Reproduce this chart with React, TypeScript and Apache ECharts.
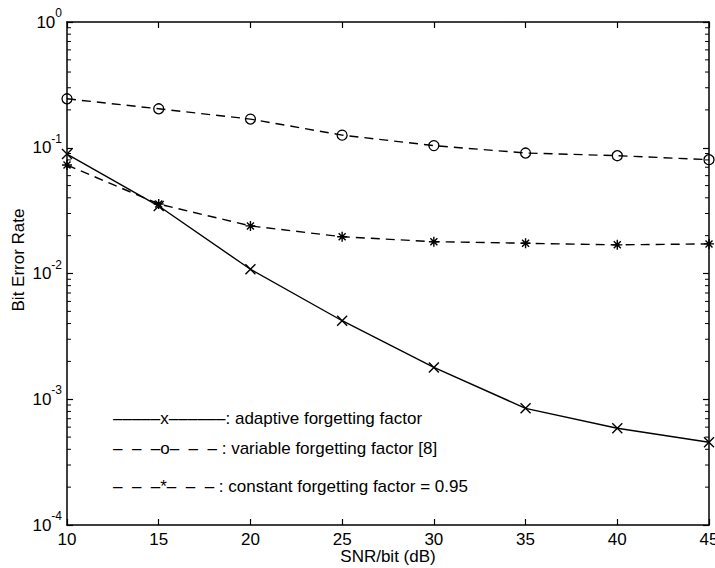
import React, { useEffect, useRef } from "react";
import * as echarts from "echarts";

const snr = [10, 15, 20, 25, 30, 35, 40, 45];
const adaptive = [0.089, 0.0344, 0.0108, 0.00421, 0.00179, 0.000847, 0.000588, 0.000455];
const variableFF = [0.245, 0.204, 0.169, 0.126, 0.104, 0.0908, 0.0865, 0.0804];
const constantFF = [0.0729, 0.0357, 0.0239, 0.0196, 0.0179, 0.0174, 0.0169, 0.0172];

const xMin = 10;
const xMax = 45;
const xStep = 5;
const yMin = 1e-4;
const yMax = 1;
const minorDecades = [-4, -3, -2, -1];
const minorMultipliers = [2, 3, 4, 5, 6, 7, 8, 9];

const legendLines = [
  "–––––x––––––: adaptive forgetting factor",
  "–\u00a0\u00a0–\u00a0\u00a0–o–\u00a0\u00a0–\u00a0\u00a0–\u00a0: variable forgetting factor [8]",
  "–\u00a0\u00a0–\u00a0\u00a0–*–\u00a0\u00a0–\u00a0\u00a0–\u00a0: constant forgetting factor = 0.95",
];

const FONT = '"Liberation Sans", Arial, Helvetica, sans-serif';

export default function App() {
  const ref = useRef<HTMLDivElement>(null);

  useEffect(() => {
    if (!ref.current) return;
    const chart = echarts.init(ref.current, undefined, { renderer: "svg" });

    const minorValues: number[][] = [];
    minorDecades.forEach((d) => {
      minorMultipliers.forEach((m) => {
        minorValues.push([xMin, m * Math.pow(10, d)]);
      });
    });

    const axisLine = { show: true, lineStyle: { color: "#000", width: 1.5 } };
    const tick = { show: true, inside: true, length: 6, lineStyle: { color: "#000", width: 1.2 } };

    const crossPath = "path://M0,0L10,10M10,0L0,10";
    const starPath = "path://M5,0L5,10M0,5L10,5M1.5,1.5L8.5,8.5M1.5,8.5L8.5,1.5";

    const option: any = {
      animation: false,
      backgroundColor: "#fff",
      textStyle: { fontFamily: FONT, color: "#000" },
      grid: { left: 67, right: 6, top: 22, bottom: 43, containLabel: false, outerBoundsMode: "none" },
      xAxis: [
        {
          type: "value",
          min: xMin,
          max: xMax,
          interval: xStep,
          position: "bottom",
          axisLine,
          axisTick: tick,
          splitLine: { show: false },
          axisLabel: { color: "#000", fontSize: 17, margin: 6, fontFamily: FONT, showMaxLabel: true, showMinLabel: true },
          name: "SNR/bit (dB)",
          nameLocation: "middle",
          nameGap: 23,
          nameMoveOverlap: false,
          nameTextStyle: { color: "#000", fontSize: 17, fontFamily: FONT },
        },
        {
          type: "value",
          min: xMin,
          max: xMax,
          interval: xStep,
          position: "top",
          axisLine,
          axisTick: tick,
          splitLine: { show: false },
          axisLabel: { show: false },
        },
      ],
      yAxis: [
        {
          type: "log",
          logBase: 10,
          min: yMin,
          max: yMax,
          splitNumber: 4,
          position: "left",
          axisLine,
          axisTick: tick,
          splitLine: { show: false },
          axisLabel: {
            margin: 5,
            formatter: (v: number) => {
              const e = Math.round(Math.log10(v));
              return "{b|10}{s|" + String(e) + "}";
            },
            rich: {
              b: { fontSize: 17, lineHeight: 30, verticalAlign: "middle", color: "#000", fontFamily: FONT },
              s: { fontSize: 12, lineHeight: 14, verticalAlign: "top", color: "#000", fontFamily: FONT },
            },
          },
          name: "Bit Error Rate",
          nameLocation: "middle",
          nameGap: 40,
          nameMoveOverlap: false,
          nameTextStyle: { color: "#000", fontSize: 17, fontFamily: FONT, padding: [0, 0, 0, 27] },
        },
        {
          type: "log",
          logBase: 10,
          min: yMin,
          max: yMax,
          splitNumber: 4,
          position: "right",
          axisLine,
          axisTick: tick,
          splitLine: { show: false },
          axisLabel: { show: false },
        },
      ],
      graphic: legendLines.map((t, i) => ({
        type: "text",
        left: 113,
        top: [420, 450, 488][i] - 10,
        style: { text: t, fontSize: 17, fontFamily: FONT, fill: "#000" },
        silent: true,
      })),
      series: [
        {
          type: "custom",
          coordinateSystem: "cartesian2d",
          xAxisIndex: 0,
          yAxisIndex: 0,
          silent: true,
          clip: false,
          data: minorValues,
          renderItem: (params: any, api: any) => {
            const y = api.value(1);
            const pL = api.coord([xMin, y]);
            const pR = api.coord([xMax, y]);
            return {
              type: "group",
              children: [
                { type: "line", shape: { x1: pL[0], y1: pL[1], x2: pL[0] + 4, y2: pL[1] }, style: { stroke: "#000", lineWidth: 1 } },
                { type: "line", shape: { x1: pR[0], y1: pR[1], x2: pR[0] - 4, y2: pR[1] }, style: { stroke: "#000", lineWidth: 1 } },
              ],
            };
          },
        },
        {
          name: "adaptive forgetting factor",
          type: "line",
          data: snr.map((x, i) => [x, adaptive[i]]),
          symbol: crossPath,
          symbolSize: 10,
          showAllSymbol: true,
          clip: false,
          silent: true,
          lineStyle: { color: "#000", width: 1.4, type: "solid" },
          itemStyle: { color: "transparent", borderColor: "#000", borderWidth: 1.4 },
          z: 5,
        },
        {
          name: "variable forgetting factor [8]",
          type: "line",
          data: snr.map((x, i) => [x, variableFF[i]]),
          symbol: "circle",
          symbolSize: 10,
          showAllSymbol: true,
          clip: false,
          silent: true,
          lineStyle: { color: "#000", width: 1.4, type: [9, 6] },
          itemStyle: { color: "transparent", borderColor: "#000", borderWidth: 1.3 },
          z: 5,
        },
        {
          name: "constant forgetting factor = 0.95",
          type: "line",
          data: snr.map((x, i) => [x, constantFF[i]]),
          symbol: starPath,
          symbolSize: 10,
          showAllSymbol: true,
          clip: false,
          silent: true,
          lineStyle: { color: "#000", width: 1.4, type: [9, 6] },
          itemStyle: { color: "transparent", borderColor: "#000", borderWidth: 1.4 },
          z: 5,
        },
      ],
    };

    chart.setOption(option);
    return () => chart.dispose();
  }, []);

  return (
    <div
      ref={ref}
      style={{ position: "fixed", left: 0, top: 0, width: 715, height: 568, background: "#fff" }}
    />
  );
}
